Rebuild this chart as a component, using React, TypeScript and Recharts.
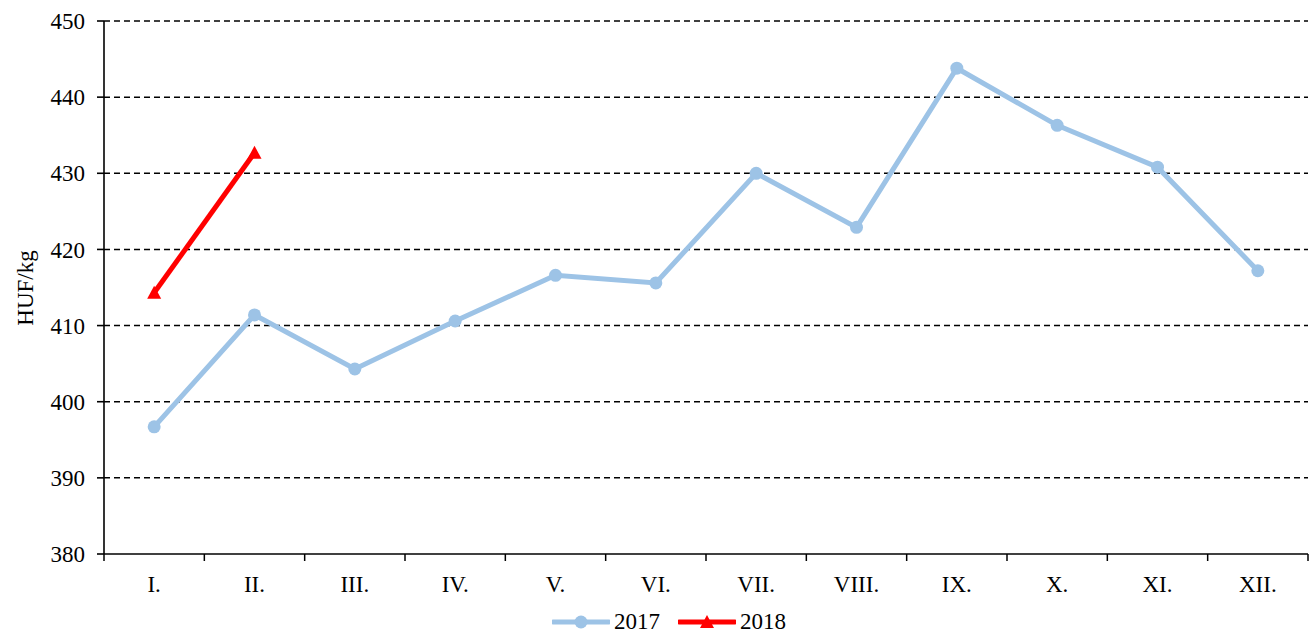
import { LineChart, Line, XAxis, YAxis, CartesianGrid, Legend } from 'recharts';

const months = ['I.', 'II.', 'III.', 'IV.', 'V.', 'VI.', 'VII.', 'VIII.', 'IX.', 'X.', 'XI.', 'XII.'];
const values2017 = [396.7, 411.4, 404.3, 410.6, 416.6, 415.6, 430.0, 422.9, 443.8, 436.3, 430.8, 417.2];
const values2018 = [414.3, 432.7];
const yTicks = [380, 390, 400, 410, 420, 430, 440, 450];

const data = months.map((m, i) => ({
  month: m,
  y2017: values2017[i],
  y2018: i < values2018.length ? values2018[i] : null,
}));

const W = 1311;
const H = 636;
const LEFT = 104;
const RIGHT = 3;
const BAND = (W - LEFT - RIGHT) / months.length;
const FONT = '"Liberation Serif", "Times New Roman", serif';
const FS = 23;
const BLUE = '#9DC3E6';
const RED = '#FF0000';
const TICK_SIZE = 7;
const TICK_MARGIN = 15;

function MonthTick(props: any) {
  const { x, y, payload, index } = props;
  const axisY = y - TICK_SIZE - TICK_MARGIN;
  const last = index === months.length - 1;
  return (
    <g>
      <line x1={x - BAND / 2} y1={axisY} x2={x - BAND / 2} y2={axisY + TICK_SIZE} stroke="#000" strokeWidth={1.5} />
      {last && (
        <line x1={x + BAND / 2} y1={axisY} x2={x + BAND / 2} y2={axisY + TICK_SIZE} stroke="#000" strokeWidth={1.5} />
      )}
      <text x={x} y={y} dy="0.68em" textAnchor="middle" fontFamily={FONT} fontSize={FS} fill="#000">
        {payload.value}
      </text>
    </g>
  );
}

function Triangle(props: any) {
  const { cx, cy } = props;
  if (cx == null || cy == null) return null;
  return <path d={`M${cx},${cy - 7} L${cx + 7},${cy + 6} L${cx - 7},${cy + 6} Z`} fill={RED} />;
}

function LegendContent() {
  const item = (label: string, color: string, marker: 'circle' | 'triangle') => (
    <div style={{ display: 'flex', alignItems: 'center', margin: '0 9px' }}>
      <svg width={58} height={16}>
        <line x1={1} y1={8} x2={57} y2={8} stroke={color} strokeWidth={5} strokeLinecap="round" />
        {marker === 'circle' ? (
          <circle cx={29} cy={8} r={6.5} fill={color} />
        ) : (
          <path d="M29,1 L36,14 L22,14 Z" fill={color} />
        )}
      </svg>
      <span style={{ fontFamily: FONT, fontSize: FS, marginLeft: 4, color: '#000' }}>{label}</span>
    </div>
  );
  return (
    <div style={{ display: 'flex', justifyContent: 'center', alignItems: 'center', height: 28, paddingLeft: 30 }}>
      {item('2017', BLUE, 'circle')}
      {item('2018', RED, 'triangle')}
    </div>
  );
}

export default function App() {
  return (
    <div style={{ position: 'absolute', left: 0, top: 0, width: W, height: H, background: '#fff' }}>
      <LineChart width={W} height={H} data={data} margin={{ top: 21, right: RIGHT, left: 0, bottom: 0 }}>
        <CartesianGrid
          vertical={false}
          horizontalValues={yTicks.slice(1)}
          stroke="#000"
          strokeDasharray="6 4"
          strokeWidth={1.5}
        />
        <XAxis
          dataKey="month"
          height={54}
          padding={{ left: BAND / 2, right: BAND / 2 }}
          tickLine={false}
          tickSize={TICK_SIZE}
          tickMargin={TICK_MARGIN}
          tick={<MonthTick />}
          axisLine={{ stroke: '#000', strokeWidth: 1.6 }}
          interval={0}
        />
        <YAxis
          width={LEFT}
          domain={[380, 450]}
          ticks={yTicks}
          interval={0}
          tickSize={TICK_SIZE}
          tickMargin={12}
          tick={{ fontFamily: FONT, fontSize: FS, fill: '#000' }}
          tickLine={{ stroke: '#000', strokeWidth: 1.6 }}
          axisLine={{ stroke: '#000', strokeWidth: 1.6 }}
          label={{
            content: () => (
              <text
                x={25}
                y={288}
                transform="rotate(-90, 25, 288)"
                textAnchor="middle"
                dominantBaseline="central"
                fontFamily={FONT}
                fontSize={FS}
                fill="#000"
              >
                HUF/kg
              </text>
            ),
          }}
        />
        <Legend verticalAlign="bottom" height={28} content={<LegendContent />} />
        <Line
          dataKey="y2017"
          name="2017"
          stroke={BLUE}
          strokeWidth={5}
          dot={{ r: 6.5, fill: BLUE, stroke: 'none' }}
          isAnimationActive={false}
        />
        <Line
          dataKey="y2018"
          name="2018"
          stroke={RED}
          strokeWidth={5}
          dot={<Triangle />}
          connectNulls={false}
          isAnimationActive={false}
        />
      </LineChart>
    </div>
  );
}
